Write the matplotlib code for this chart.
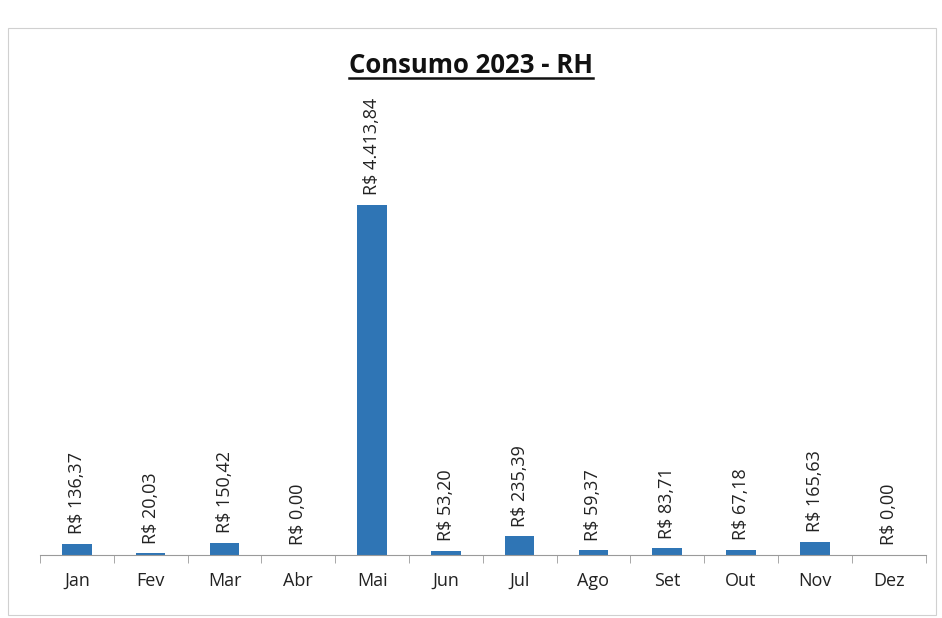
import matplotlib
matplotlib.use("Agg")
import matplotlib.pyplot as plt
from matplotlib.patches import Rectangle
from matplotlib.lines import Line2D

# Monthly values (R$)
months = ["Jan", "Fev", "Mar", "Abr", "Mai", "Jun", "Jul", "Ago", "Set", "Out", "Nov", "Dez"]
values = [136.37, 20.03, 150.42, 0.00, 4413.84, 53.20, 235.39, 59.37, 83.71, 67.18, 165.63, 0.00]
labels = ["R$ 136,37", "R$ 20,03", "R$ 150,42", "R$ 0,00", "R$ 4.413,84", "R$ 53,20",
          "R$ 235,39", "R$ 59,37", "R$ 83,71", "R$ 67,18", "R$ 165,63", "R$ 0,00"]

plt.rcParams['font.family'] = ['Open Sans', 'DejaVu Sans']

fig = plt.figure(figsize=(9.42, 6.18), dpi=100)
ax = fig.add_axes([0.0425, 0.102, 0.94, 0.752])

x = list(range(len(months)))
bars = ax.bar(x, values, width=0.4, color='#2F75B5')

for rect, lab in zip(bars, labels):
    ax.annotate(lab, (rect.get_x() + rect.get_width() / 2, rect.get_height()),
                xytext=(0, 7), textcoords='offset points',
                rotation=90, ha='center', va='bottom', fontsize=13, color='#222222')

ax.set_xlim(-0.5, len(months) - 0.5)
ax.set_ylim(0, 5864)
ax.set_yticks([])
for s in ['top', 'right', 'left']:
    ax.spines[s].set_visible(False)
ax.spines['bottom'].set_color('#9a9a9a')

ax.set_xticks(x)
ax.set_xticklabels(months, fontsize=13, color='#222222')
ax.tick_params(axis='x', which='major', length=0, pad=12)
ax.set_xticks([i - 0.5 for i in range(len(months) + 1)], minor=True)
ax.tick_params(axis='x', which='minor', length=6, color='#9a9a9a', direction='out')

# title with underline
title = fig.text(0.5, 0.872, "Consumo 2023 - RH", ha='center', va='bottom',
                 fontsize=18.5, fontweight='bold', color='#111111')
fig.canvas.draw()
bb = title.get_window_extent().transformed(fig.transFigure.inverted())
fig.add_artist(Line2D([bb.x0, bb.x1], [bb.y0 + 0.002, bb.y0 + 0.002],
                      transform=fig.transFigure, color='#111111', lw=1.8))

# chart frame
fig.add_artist(Rectangle((0.009, 0.005), 0.985, 0.95, transform=fig.transFigure,
                         fill=False, edgecolor='#d0d0d0', lw=0.8))

fig.savefig("out.png", dpi=100)
